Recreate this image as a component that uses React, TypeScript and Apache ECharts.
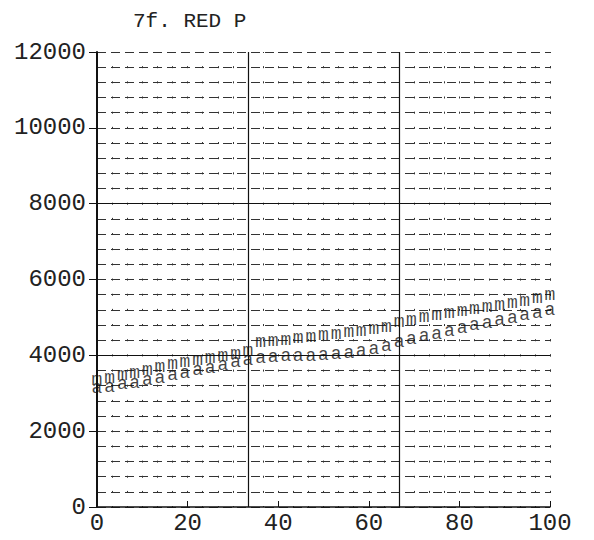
import React, { useEffect, useRef } from "react";
import * as echarts from "echarts";

const TITLE = "7f. RED P";
const X_VALUES = [0, 2.8, 5.6, 8.3, 11.1, 13.9, 16.7, 19.4, 22.2, 25, 27.8, 30.6, 33.3, 36.1, 38.9, 41.7, 44.4, 47.2, 50, 52.8, 55.6, 58.3, 61.1, 63.9, 66.7, 69.4, 72.2, 75, 77.8, 80.6, 83.3, 86.1, 88.9, 91.7, 94.4, 97.2, 100];
const A_VALUES = [3090, 3120, 3180, 3230, 3300, 3360, 3420, 3480, 3560, 3620, 3700, 3760, 3820, 3870, 3900, 3920, 3930, 3940, 3950, 3970, 4000, 4060, 4120, 4200, 4300, 4380, 4450, 4520, 4600, 4680, 4740, 4800, 4870, 4940, 5000, 5060, 5140];
const M_VALUES = [3300, 3350, 3420, 3480, 3560, 3640, 3710, 3760, 3820, 3880, 3940, 3990, 4050, 4300, 4330, 4360, 4400, 4440, 4480, 4520, 4560, 4600, 4640, 4700, 4820, 4880, 4950, 5000, 5060, 5120, 5170, 5220, 5280, 5330, 5380, 5450, 5540];
const HEAVY_X = [33.33, 66.67];
const HEAVY_Y = [4000, 8000];

const FONT = "Liberation Mono";

export default function App() {
  const ref = useRef<HTMLDivElement>(null);
  useEffect(() => {
    if (!ref.current) return;
    const chart = echarts.init(ref.current, undefined, { renderer: "svg" });
    const glyph = (ch: string) => ({
      show: true,
      position: "inside",
      formatter: ch,
      fontFamily: FONT,
      fontSize: 18,
      color: "#111",
      offset: [0, -2],
    });
    chart.setOption({
      animation: false,
      backgroundColor: "#fff",
      title: {
        text: TITLE,
        left: 128,
        top: 6,
        textStyle: { fontFamily: FONT, fontWeight: "normal", fontSize: 21, color: "#222" },
      },
      grid: { left: 97, right: 44, top: 52, bottom: 33 },
      xAxis: [
        {
          type: "value",
          min: 0,
          max: 100,
          interval: 20,
          axisLine: { show: true, lineStyle: { color: "#111", width: 1.5 } },
          axisTick: { show: true, inside: true, length: 6, lineStyle: { color: "#111" } },
          axisLabel: { fontFamily: FONT, fontSize: 24, color: "#222", margin: 4 },
          splitLine: { show: false },
        },
        {
          type: "value",
          min: 0,
          max: 100,
          interval: 100 / 30,
          position: "top",
          axisLine: { show: false },
          axisTick: { show: false },
          axisLabel: { show: false },
          splitLine: { show: true, lineStyle: { color: "#333", width: 1, type: [2, 13.17], dashOffset: 1 } },
        },
      ],
      yAxis: [
        {
          type: "value",
          min: 0,
          max: 12000,
          interval: 2000,
          axisLine: { show: true, lineStyle: { color: "#111", width: 2 } },
          axisTick: { show: true, length: 8, lineStyle: { color: "#111" } },
          axisLabel: {
            fontFamily: FONT,
            fontSize: 24,
            color: "#222",
            margin: 11,
            formatter: (v: number) => String(v),
          },
          splitLine: { show: false },
        },
        {
          type: "value",
          min: 0,
          max: 12000,
          interval: 400,
          position: "right",
          axisLine: { show: false },
          axisTick: { show: false },
          axisLabel: { show: false },
          splitLine: { show: true, lineStyle: { color: "#333", width: 1, type: [9, 5] } },
        },
      ],
      series: [
        {
          name: "a",
          type: "scatter",
          symbolSize: 1,
          itemStyle: { color: "rgba(0,0,0,0)" },
          label: glyph("a"),
          data: X_VALUES.map((x, i) => [x, A_VALUES[i]]),
          markLine: {
            silent: true,
            symbol: "none",
            label: { show: false },
            lineStyle: { color: "#111", width: 1.2, type: "solid" },
            data: [...HEAVY_X.map((x) => ({ xAxis: x })), ...HEAVY_Y.map((y) => ({ yAxis: y }))],
          },
        },
        {
          name: "m",
          type: "scatter",
          symbolSize: 1,
          itemStyle: { color: "rgba(0,0,0,0)" },
          label: glyph("m"),
          data: X_VALUES.map((x, i) => [x, M_VALUES[i]]),
        },
      ],
    });
    return () => chart.dispose();
  }, []);
  return (
    <div
      ref={ref}
      style={{ position: "fixed", left: 0, top: 0, width: 594, height: 540, background: "#fff" }}
    />
  );
}
